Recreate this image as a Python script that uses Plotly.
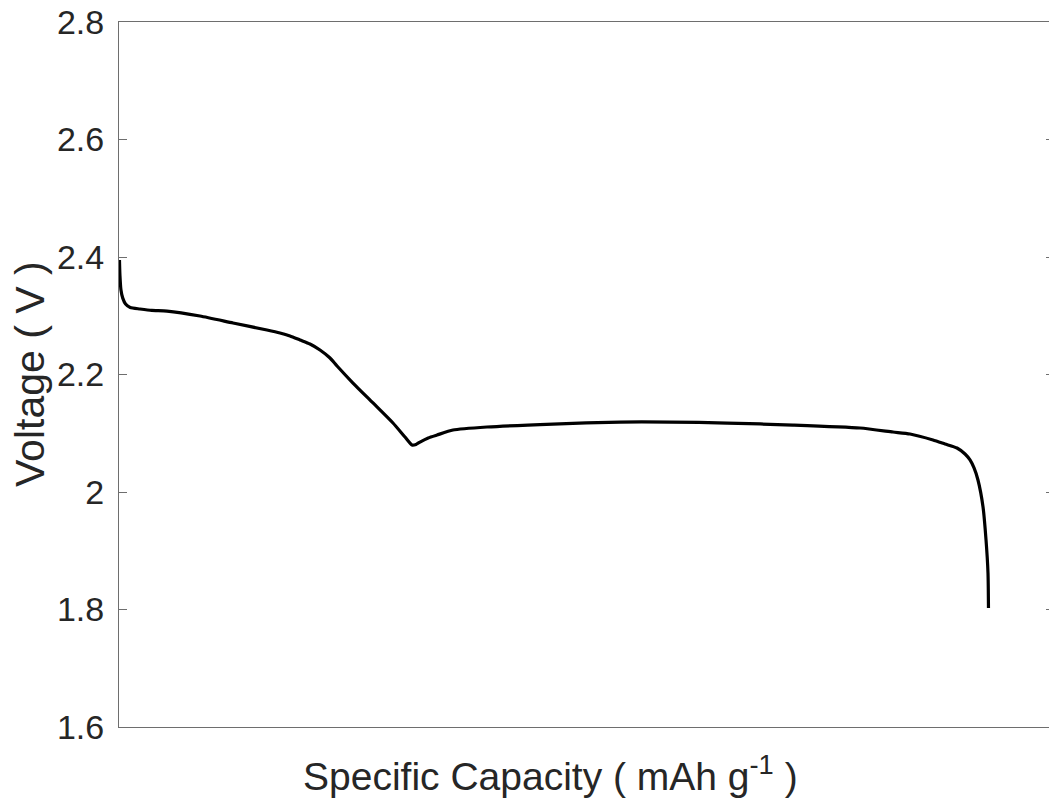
import plotly.graph_objects as go

# Specific capacity (arbitrary units, no tick labels shown) and voltage (V)
capacity = [0.5, 1.0, 2.1, 4.0, 7.0, 12, 22.4, 35, 51.2, 86.4, 121.7, 157.9, 171.8,
            182.5, 193.2, 203.8, 214.5, 225.2, 232.7, 249.7, 271.1, 292.4, 305.2,
            312.7, 317, 321.2, 330, 339.4, 356.4, 392.7, 463.2, 534.7, 588.0, 648.9,
            719.3, 790.8, 826.0, 844.2, 868.7, 881.5, 894.3, 902.9, 908.2, 912.5,
            916.7, 922.1, 925.3, 927.4, 927.9]
voltage = [2.395, 2.369, 2.344, 2.330, 2.320, 2.314, 2.3115, 2.309, 2.308, 2.2996,
           2.2877, 2.2757, 2.2706, 2.2655, 2.2587, 2.2519, 2.2417, 2.2281, 2.2145,
           2.1855, 2.1515, 2.1174, 2.0936, 2.0800, 2.0810, 2.0850, 2.0920, 2.0970,
           2.1055, 2.1106, 2.1157, 2.1191, 2.1191, 2.1174, 2.1140, 2.1089, 2.1021,
           2.0987, 2.0885, 2.0817, 2.0749, 2.0647, 2.0545, 2.0409, 2.0204, 1.9745,
           1.9183, 1.8621, 1.8026]

y_ticks = [1.6, 1.8, 2.0, 2.2, 2.4, 2.6, 2.8]
y_ticklabels = ["1.6", "1.8", "2", "2.2", "2.4", "2.6", "2.8"]
x_range = [0, 992.5]
y_range = [1.6, 2.8]

FONT = "Liberation Sans, Arial, Helvetica, sans-serif"
AXC = "#6e6e6e"
TXT = "#262626"

fig = go.Figure()
fig.add_trace(go.Scatter(x=capacity, y=voltage, mode="lines",
                         line=dict(color="black", width=3.2, shape="spline", smoothing=0.6),
                         showlegend=False, hoverinfo="skip"))
# invisible trace on right axis so its ticks render
fig.add_trace(go.Scatter(x=[None], y=[None], yaxis="y2", showlegend=False,
                         hoverinfo="skip"))

fig.update_layout(
    width=1049, height=802,
    margin=dict(l=119, r=0, t=22, b=75),
    paper_bgcolor="white", plot_bgcolor="white",
    font=dict(family=FONT, color=TXT),
    xaxis=dict(range=x_range, showgrid=False, zeroline=False, showline=True,
               linecolor=AXC, linewidth=1, mirror=True, ticks="",
               showticklabels=False),
    yaxis=dict(range=y_range, showgrid=False, zeroline=False, showline=True,
               linecolor=AXC, linewidth=1, mirror=False, ticks="inside",
               ticklen=8, tickcolor=AXC, tickwidth=1,
               tickvals=y_ticks, ticktext=y_ticklabels, ticklabelstandoff=7,
               tickfont=dict(size=34, color=TXT, family=FONT)),
    yaxis2=dict(range=y_range, overlaying="y", side="right", showgrid=False,
                zeroline=False, showline=False, ticks="inside", ticklen=3,
                tickcolor=AXC, tickwidth=1, tickvals=y_ticks,
                showticklabels=False),
    annotations=[
        dict(text="Specific Capacity ( mAh g<sup>-1</sup> )", xref="paper", yref="paper",
             x=0.4645, y=-0.066, xanchor="center", yanchor="middle", showarrow=False,
             font=dict(size=39, color=TXT, family=FONT)),
        dict(text="Voltage ( V )", xref="paper", yref="paper",
             x=-0.0955, y=0.501, xanchor="center", yanchor="middle", showarrow=False,
             textangle=-90, font=dict(size=41, color=TXT, family=FONT)),
    ],
)

fig.write_html("out.html", config={"displayModeBar": False, "responsive": False})
